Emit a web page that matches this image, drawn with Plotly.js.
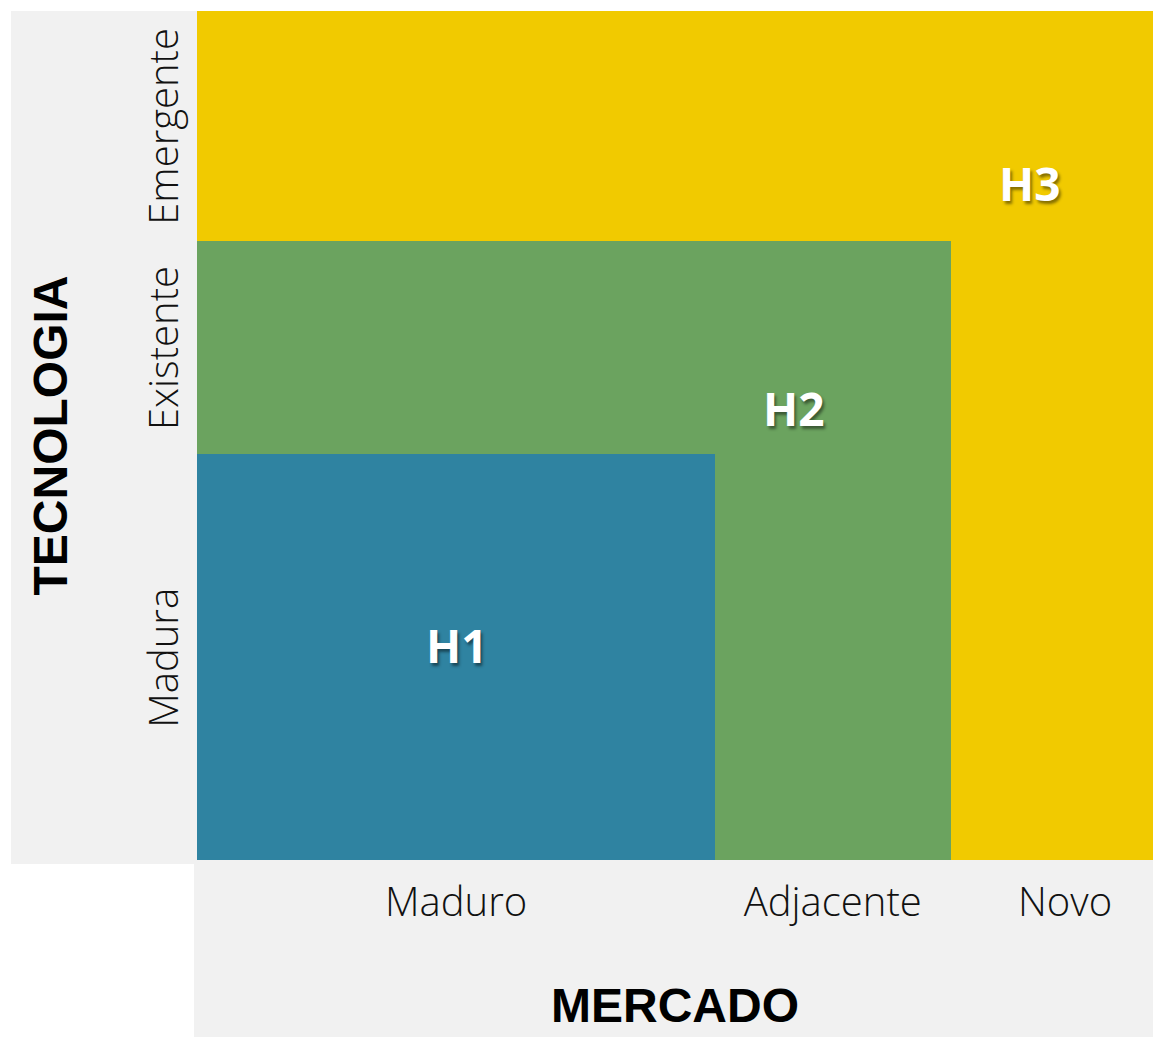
<!DOCTYPE html>
<html>
<head>
<meta charset="utf-8">
<script src="https://cdn.plot.ly/plotly-3.0.1.min.js"></script>
<style>html,body{margin:0;padding:0;background:#fff;}#chart{width:1153px;height:1037px;}</style>
</head>
<body>
<div id="chart"></div>
<script>
// Horizons (H1 inside H2 inside H3), extents in % of market / technology axes
const horizons = ["H3", "H2", "H1"];
const marketExtent = [100, 78.9, 54.2];     // right edge on MERCADO axis
const techExtent = [100, 72.9, 47.8];       // top edge on TECNOLOGIA axis
const horizonColors = ["#F1CA00", "#6BA35F", "#2F83A1"];
const labelX = [87.1, 62.4, 27.2];
const labelY = [79.7, 53.2, 25.3];

// Axis tick labels
const marketTicks = ["Maduro", "Adjacente", "Novo"];
const marketTickPos = [27.1, 66.5, 90.8];
const techTicks = ["Madura", "Existente", "Emergente"];
const techTickPos = [23.1, 59.6, 85.7];

const traces = horizons.map((h, i) => ({
  type: "bar",
  x: [marketExtent[i] / 2],
  y: [techExtent[i]],
  width: [marketExtent[i]],
  base: 0,
  name: h,
  marker: { color: horizonColors[i], line: { width: 0 } },
  hoverinfo: "skip",
  showlegend: false
}));

const annotations = horizons.map((h, i) => ({
  x: labelX[i], y: labelY[i], xref: "x", yref: "y",
  text: "<b>" + h + "</b>", showarrow: false,
  font: { family: "Open Sans, sans-serif", size: 46, color: "#ffffff",
          shadow: "2px 3px 3px rgba(0,0,0,0.45)" }
}));

const layout = {
  width: 1153, height: 1037,
  margin: { l: 197, r: 0, t: 11, b: 177, pad: 0 },
  paper_bgcolor: "#ffffff",
  plot_bgcolor: "#F1F1F1",
  barmode: "overlay",
  bargap: 0,
  showlegend: false,
  xaxis: {
    range: [0, 100], showgrid: false, zeroline: false, showline: false,
    ticks: "", tickmode: "array", tickvals: marketTickPos, ticktext: marketTicks,
    tickfont: { family: "Open Sans, sans-serif", size: 40, color: "#111", weight: 300 },
    ticklabelstandoff: 15,
    fixedrange: true,
    title: { text: "<b>MERCADO</b>", standoff: 61,
             font: { family: "Liberation Sans, Arial, sans-serif", size: 48, color: "#000" } }
  },
  yaxis: {
    range: [0, 100], showgrid: false, zeroline: false, showline: false,
    ticks: "", tickmode: "array", tickvals: techTickPos, ticktext: techTicks, tickangle: -90,
    tickfont: { family: "Open Sans, sans-serif", size: 40, color: "#111", weight: 300 },
    ticklabelstandoff: 10,
    fixedrange: true,
    title: { text: "<b>TECNOLOGIA</b>", standoff: 52,
             font: { family: "Liberation Sans, Arial, sans-serif", size: 48, color: "#000" } }
  },
  shapes: [
    { type: "rect", xref: "paper", yref: "paper", x0: -0.1946, x1: 0, y0: -0.0047, y1: 1,
      fillcolor: "#F1F1F1", line: { width: 0 }, layer: "below" },
    { type: "rect", xref: "paper", yref: "paper", x0: -0.0031, x1: 1, y0: -0.2085, y1: 0,
      fillcolor: "#F1F1F1", line: { width: 0 }, layer: "below" }
  ],
  annotations: annotations
};

Plotly.newPlot("chart", traces, layout, { displayModeBar: false, staticPlot: true });
</script>
</body>
</html>
